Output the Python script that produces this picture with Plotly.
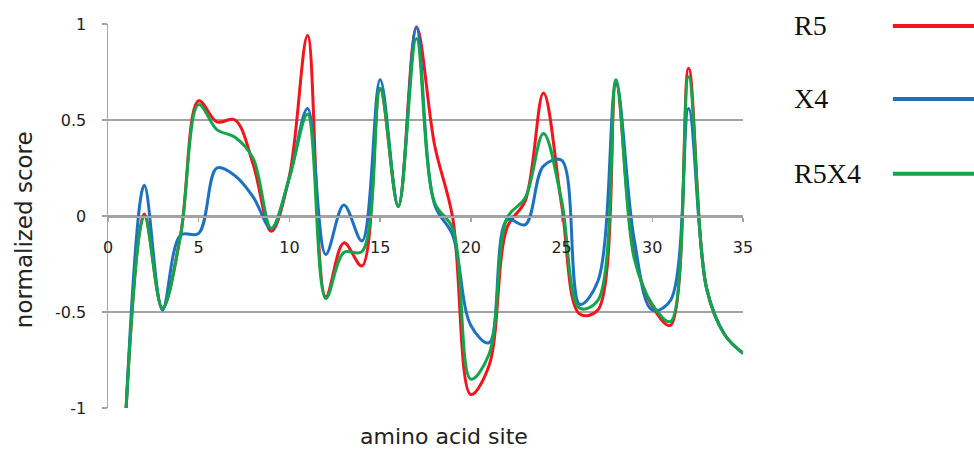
import plotly.graph_objects as go

# ---- data ----
sites = list(range(1, 36))

r5 = [-1.0, 0.01, -0.48, -0.10, 0.60, 0.49, 0.50, 0.27, -0.08, 0.21,
      0.94, -0.42, -0.14, -0.26, 0.66, 0.05, 0.985, 0.37, -0.01, -0.93,
      -0.78, -0.06, 0.08, 0.64, 0.06, -0.51, -0.49, 0.69, -0.20, -0.47,
      -0.57, 0.77, -0.38, -0.62, -0.715]

x4 = [-1.0, 0.16, -0.49, -0.10, -0.09, 0.25, 0.21, 0.10, -0.065, 0.20,
      0.56, -0.20, 0.057, -0.13, 0.71, 0.05, 0.98, 0.06, -0.10, -0.57,
      -0.66, -0.02, -0.045, 0.26, 0.29, -0.46, -0.34, 0.69, -0.12, -0.49,
      -0.44, 0.56, -0.38, -0.62, -0.715]

r5x4 = [-1.0, 0.0, -0.48, -0.10, 0.58, 0.45, 0.41, 0.30, -0.065, 0.20,
        0.53, -0.43, -0.19, -0.185, 0.665, 0.05, 0.925, 0.07, -0.065, -0.85,
        -0.72, -0.01, 0.095, 0.43, 0.08, -0.48, -0.44, 0.71, -0.22, -0.46,
        -0.55, 0.725, -0.38, -0.62, -0.715]

series_names = ["R5", "X4", "R5X4"]
series_values = [r5, x4, r5x4]
series_colors = ["#f5141c", "#1b72c2", "#12a64a"]

x_ticks = [0, 5, 10, 15, 20, 25, 30, 35]
y_ticks = [-1, -0.5, 0, 0.5, 1]
y_ticktext = ["-1", "-0.5", "0", "0.5", "1"]

GRID = "#a3a3a3"

fig = go.Figure()
for name, vals, col in zip(series_names, series_values, series_colors):
    fig.add_trace(go.Scatter(
        x=sites, y=vals, name=name, mode="lines",
        line=dict(color=col, width=3, shape="spline", smoothing=1.0),
        showlegend=False, hoverinfo="skip",
    ))

fig.update_layout(
    width=974, height=449,
    margin=dict(l=108, r=231, t=24, b=41),
    paper_bgcolor="white", plot_bgcolor="white",
    font=dict(family="DejaVu Sans", size=16, color="#222222"),
    hovermode=False,
)

fig.update_xaxes(
    range=[0, 35], tickvals=x_ticks,
    showgrid=False, zeroline=False,
    showline=True, linecolor=GRID, linewidth=1.5,
    ticks="outside", ticklen=4, tickcolor=GRID, tickwidth=1.5,
    anchor="free", position=0.5,
    ticklabelstandoff=12,
    tickfont=dict(family="DejaVu Sans", size=16, color="#222222"),
)
fig.update_yaxes(
    range=[-1, 1], tickvals=y_ticks, ticktext=y_ticktext,
    showgrid=True, gridcolor=GRID, gridwidth=1.5,
    zeroline=False,
    showline=True, linecolor=GRID, linewidth=1.5,
    ticks="outside", ticklen=5, tickcolor=GRID, tickwidth=1.5,
    ticklabelstandoff=12,
    tickfont=dict(family="DejaVu Sans", size=16, color="#222222"),
)

# axis titles
fig.add_annotation(text="amino acid site", xref="paper", yref="paper",
                   x=0.529, y=-0.0755, xanchor="center", yanchor="middle",
                   showarrow=False,
                   font=dict(family="DejaVu Sans", size=22, color="#222222"))
fig.add_annotation(text="normalized score", xref="paper", yref="paper",
                   x=-0.132, y=0.4635, xanchor="center", yanchor="middle",
                   textangle=-90, showarrow=False,
                   font=dict(family="DejaVu Sans", size=23, color="#222222"))

# legend (text left of the line sample, as in the reference)
legend_y = [0.995, 0.805, 0.61]
for name, col, ly in zip(series_names, series_colors, legend_y):
    fig.add_annotation(text=name, xref="paper", yref="paper",
                       x=1.077, y=ly, xanchor="left", yanchor="middle",
                       showarrow=False,
                       font=dict(family="Liberation Serif", size=28, color="#111111"))
    fig.add_shape(type="line", xref="paper", yref="paper",
                  x0=1.236, x1=1.40, y0=ly, y1=ly,
                  line=dict(color=col, width=4))

fig.write_html("out.html",
               config={"displayModeBar": False, "staticPlot": True},
               post_script="document.body.style.margin='0';document.body.style.overflow='hidden';")
